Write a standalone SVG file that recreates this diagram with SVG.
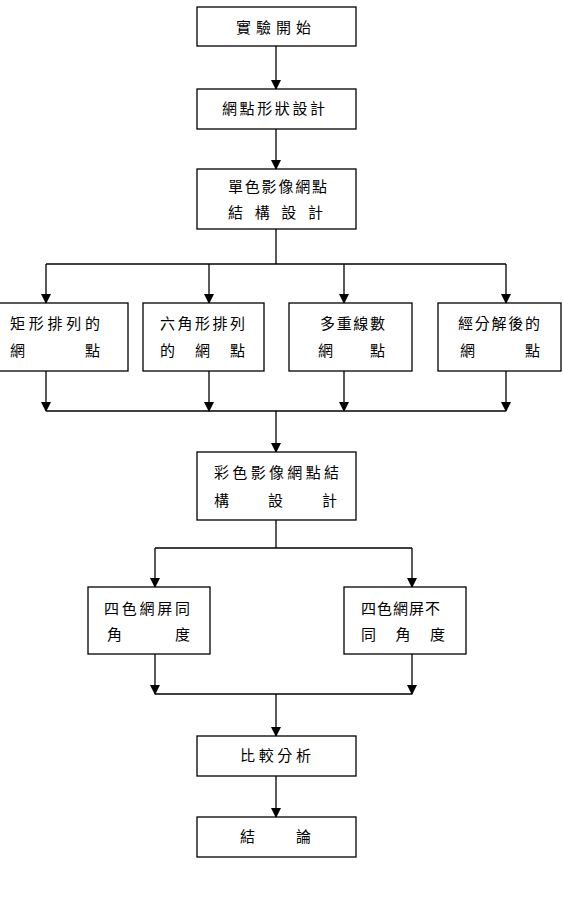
<svg xmlns="http://www.w3.org/2000/svg" width="563" height="924" viewBox="0 0 563 924">
<style>
.box{fill:#fff;stroke:#000;stroke-width:1.3}
.t{font-family:"Noto Sans CJK TC","Noto Sans CJK SC",sans-serif;font-size:15px;fill:#000}
.c{stroke:#000;stroke-width:1.3;fill:none}
</style>
<defs>
<marker id="ah" markerWidth="10" markerHeight="12" refX="9" refY="5" orient="auto" markerUnits="userSpaceOnUse" viewBox="0 0 10 10">
<path d="M0,0 L10,5 L0,10 z" fill="#000"/>
</marker>
</defs>
<rect width="563" height="924" fill="#fff"/>
<g id="connectors">
<line class="c" x1="276" y1="46" x2="276" y2="89" marker-end="url(#ah)"/>
<line class="c" x1="276" y1="129" x2="276" y2="169" marker-end="url(#ah)"/>
<line class="c" x1="276" y1="229" x2="276" y2="264"/>
<line class="c" x1="46" y1="264" x2="506" y2="264"/>
<line class="c" x1="46" y1="264" x2="46" y2="303" marker-end="url(#ah)"/>
<line class="c" x1="209" y1="264" x2="209" y2="303" marker-end="url(#ah)"/>
<line class="c" x1="344" y1="264" x2="344" y2="303" marker-end="url(#ah)"/>
<line class="c" x1="506" y1="264" x2="506" y2="303" marker-end="url(#ah)"/>
<line class="c" x1="46" y1="371" x2="46" y2="411" marker-end="url(#ah)"/>
<line class="c" x1="209" y1="371" x2="209" y2="411" marker-end="url(#ah)"/>
<line class="c" x1="344" y1="371" x2="344" y2="411" marker-end="url(#ah)"/>
<line class="c" x1="506" y1="371" x2="506" y2="411" marker-end="url(#ah)"/>
<line class="c" x1="46" y1="411" x2="506" y2="411"/>
<line class="c" x1="276" y1="411" x2="276" y2="452" marker-end="url(#ah)"/>
<line class="c" x1="276" y1="520" x2="276" y2="548"/>
<line class="c" x1="155" y1="548" x2="412" y2="548"/>
<line class="c" x1="155" y1="548" x2="155" y2="587" marker-end="url(#ah)"/>
<line class="c" x1="412" y1="548" x2="412" y2="587" marker-end="url(#ah)"/>
<line class="c" x1="155" y1="654" x2="155" y2="694" marker-end="url(#ah)"/>
<line class="c" x1="412" y1="654" x2="412" y2="694" marker-end="url(#ah)"/>
<line class="c" x1="155" y1="694" x2="412" y2="694"/>
<line class="c" x1="276" y1="694" x2="276" y2="736" marker-end="url(#ah)"/>
<line class="c" x1="276" y1="776" x2="276" y2="817" marker-end="url(#ah)"/>
</g>
<g id="n1"><rect class="box" x="197" y="7" width="159" height="39"/>
<text class="t" x="236" y="33" textLength="75" lengthAdjust="spacing">實驗開始</text></g>
<g id="n2"><rect class="box" x="197" y="89" width="159" height="40"/>
<text class="t" x="222" y="114" textLength="103" lengthAdjust="spacing">網點形狀設計</text></g>
<g id="n3"><rect class="box" x="197" y="169" width="159" height="60"/>
<text class="t" x="228" y="192" textLength="99" lengthAdjust="spacing">單色影像網點</text>
<text class="t" x="228" y="218" textLength="95" lengthAdjust="spacing">結構設計</text></g>
<g id="n4"><rect class="box" x="-1" y="303" width="129" height="68"/>
<text class="t" x="10" y="329" textLength="90" lengthAdjust="spacing">矩形排列的</text>
<text class="t" x="10" y="356" textLength="90" lengthAdjust="spacing">網點</text></g>
<g id="n5"><rect class="box" x="143" y="303" width="121" height="68"/>
<text class="t" x="160" y="329" textLength="85" lengthAdjust="spacing">六角形排列</text>
<text class="t" x="160" y="356" textLength="85" lengthAdjust="spacing">的網點</text></g>
<g id="n6"><rect class="box" x="289" y="303" width="123" height="68"/>
<text class="t" x="320" y="329" textLength="65" lengthAdjust="spacing">多重線數</text>
<text class="t" x="318" y="356" textLength="67" lengthAdjust="spacing">網點</text></g>
<g id="n7"><rect class="box" x="438" y="303" width="123" height="68"/>
<text class="t" x="458" y="329" textLength="82" lengthAdjust="spacing">經分解後的</text>
<text class="t" x="460" y="356" textLength="80" lengthAdjust="spacing">網點</text></g>
<g id="n8"><rect class="box" x="197" y="452" width="159" height="68"/>
<text class="t" x="214" y="478" textLength="125" lengthAdjust="spacing">彩色影像網點結</text>
<text class="t" x="214" y="506" textLength="123" lengthAdjust="spacing">構設計</text></g>
<g id="n9"><rect class="box" x="88" y="587" width="122" height="67"/>
<text class="t" x="104" y="614" textLength="86" lengthAdjust="spacing">四色網屏同</text>
<text class="t" x="107" y="640" textLength="83" lengthAdjust="spacing">角度</text></g>
<g id="n10"><rect class="box" x="344" y="587" width="122" height="67"/>
<text class="t" x="361" y="614" textLength="79" lengthAdjust="spacing">四色網屏不</text>
<text class="t" x="361" y="640" textLength="84" lengthAdjust="spacing">同角度</text></g>
<g id="n11"><rect class="box" x="197" y="736" width="159" height="40"/>
<text class="t" x="240" y="761" textLength="71" lengthAdjust="spacing">比較分析</text></g>
<g id="n12"><rect class="box" x="197" y="817" width="159" height="40"/>
<text class="t" x="240" y="842" textLength="71" lengthAdjust="spacing">結論</text></g>
</svg>
